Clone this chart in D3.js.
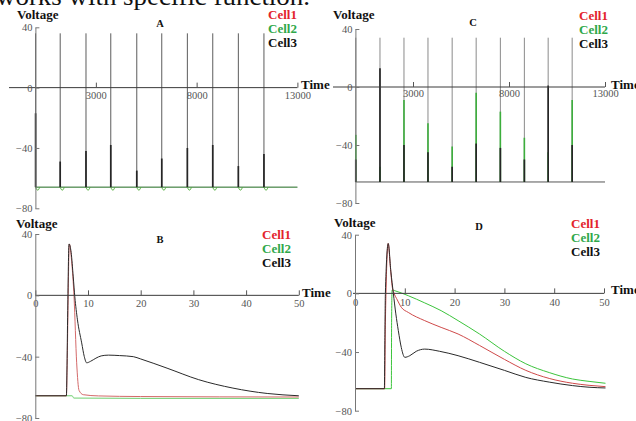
<!DOCTYPE html>
<html>
<head>
<meta charset="utf-8">
<script src="https://cdn.jsdelivr.net/npm/d3@7"></script>
<style>
  html, body { margin: 0; padding: 0; background: #fff; }
  svg { display: block; }
  svg text { font-family: "Liberation Serif", "Times New Roman", Times, serif; }
</style>
</head>
<body>
<div id="chart"></div>
<script>
// Panels A and C: spike trains over 13 s (time in ms, voltage in mV)
const spikeTimesA = [10, 1230, 2510, 3740, 5030, 6270, 7540, 8800, 10070, 11340];
const peakA = [36, 36, 36, 36, 36, 36, 36, 36, 36, 36];
const cell3A = [-17, -49, -42, -38, -55, -47, -40, -38, -52, -44];
const cell2DipA = [-68, -68, -68, -68, -68, -68, -68, -68, -68, -68];
const restA = -66;

const spikeTimesC = [20, 1280, 2530, 3780, 5040, 6290, 7550, 8800, 10040, 11290];
const peakC = [34, 34, 34, 34, 34, 34, 34, 34, 34, 34];
const cell3C = [-50, 13, -40, -45, -55, -39, -42, -50, 1, -40];
const cell2C = [-33, -55, -9, -25, -41, -4, -17, -35, -45, -9];
const restC = -65.5;

// Panels B and D: single spike over 50 ms, [time, voltage]
const cell1B = [[0, -65.5], [5.9, -65.5], [6.05, -45], [6.2, -10], [6.45, 33.5], [6.9, 22], [7.35, -1],
  [7.85, -44], [8.3, -62], [9.1, -64.8], [12, -65.6], [20, -66], [50, -66.3]];
const cell2B = [[0, -65.5], [7.0, -65.5], [7.3, -67], [20, -67.2], [50, -67.2]];
const cell3B = [[0, -65.5], [5.9, -65.5], [6.0, -50], [6.15, -10], [6.4, 33.5], [6.8, 28], [7.2, 12],
  [7.5, -1], [8.0, -16], [8.8, -31], [9.3, -40], [9.75, -44], [10.5, -43], [11.5, -41], [12.5, -39.5],
  [13.9, -39], [16, -39.3], [18.6, -40], [20, -41.5], [25, -47.5], [31, -55], [37.5, -60.5],
  [44, -64], [50, -65.5]];

const cell1D = [[0, -65], [5.95, -65], [6.1, -20], [6.67, 34], [7.1, 18], [7.5, 4], [7.8, 0.5],
  [8.5, -4.5], [9.3, -9.5], [10.7, -13], [14, -18.6], [17.3, -23.2], [20.7, -27.7], [25, -35.5],
  [30, -45], [34.3, -52.5], [39, -58], [43.7, -61.3], [47, -62.7], [50.3, -63.6]];
const cell2D = [[0, -65], [7.3, -65], [7.35, -20], [7.45, 2.3], [8, 1.8], [10.7, -1.6], [14, -6.5],
  [17.3, -11.8], [20.7, -18.6], [25, -27.7], [30, -39.5], [34.3, -48], [39, -54], [43.7, -58.4],
  [47, -60], [50.3, -61.3]];
const cell3D = [[0, -65], [5.9, -65], [6.0, -30], [6.1, 0], [6.67, 34], [7.2, 15], [7.7, 0],
  [8.2, -14], [8.7, -25.4], [9.3, -37], [10, -43.6], [11, -42.5], [12.3, -39.5], [14, -38],
  [17, -39.5], [20.7, -42.5], [25, -47], [30, -52.5], [34.3, -57.3], [39, -60.5], [43.7, -62.9],
  [47, -64], [50.3, -64.5]];

const xTicksLong = [3000, 8000, 13000];
const xTicksShort = [0, 10, 20, 30, 40, 50];
const yTicks = [40, 0, -40, -80];
const cellLabels = ["Cell1", "Cell2", "Cell3"];
const panelNames = ["A", "B", "C", "D"];

const WIDTH = 636;
const HEIGHT = 421;
const legendColors = ["#e3232c", "#2fa84a", "#111"];
const lineColors = { cell1: "#cf4a4a", cell2: "#3cc43c", cell3: "#2a2a2a" };

const panels = [
  { name: panelNames[0], xDomain: [0, 13000], xRange: [35.4, 297.4], yRange: [208.3, 27.3],
    xTicks: xTicksLong, axisStart: 9, voltage: [17, 19], title: [160, 27], legend: [268, 19],
    time: [301, 89], tickDy: 4 },
  { name: panelNames[2], xDomain: [0, 13000], xRange: [355.4, 605], yRange: [203, 29],
    xTicks: xTicksLong, axisStart: 333, voltage: [333, 19], title: [473, 26], legend: [579, 20],
    time: [611, 89], tickDy: 3 },
  { name: panelNames[1], xDomain: [0, 50], xRange: [35.3, 298.8], yRange: [418, 234],
    xTicks: xTicksShort, axisStart: 35.3, voltage: [16, 228], title: [160, 243], legend: [262, 239],
    time: [302, 297], tickDy: 4 },
  { name: panelNames[3], xDomain: [0, 50], xRange: [355, 604], yRange: [410.7, 234.7],
    xTicks: xTicksShort, axisStart: 353, voltage: [334, 227], title: [479, 230], legend: [571, 228],
    time: [611, 294], tickDy: 5 },
];

const svg = d3.select("#chart")
  .append("svg")
  .attr("width", WIDTH)
  .attr("height", HEIGHT)
  .attr("viewBox", [0, 0, WIDTH, HEIGHT]);

svg.append("rect").attr("width", WIDTH).attr("height", HEIGHT).attr("fill", "#fff");

// caption fragment cut off at the top of the figure
svg.append("text")
  .attr("x", -4)
  .attr("y", 5)
  .attr("font-size", 25)
  .attr("textLength", 314)
  .attr("lengthAdjust", "spacingAndGlyphs")
  .attr("fill", "#111")
  .text("works with specific function.");

function _scales(p) {
  const x = d3.scaleLinear().domain(p.xDomain).range(p.xRange);
  const y = d3.scaleLinear().domain([-80, 40]).range(p.yRange);
  return { x, y };
}

function _drawAxes(g, p, x, y) {
  // horizontal zero line
  g.append("line")
    .attr("x1", p.axisStart)
    .attr("x2", x(p.xDomain[1]))
    .attr("y1", y(0))
    .attr("y2", y(0))
    .attr("stroke", "#3a3a3a")
    .attr("stroke-width", 1);

  const xAxis = g.append("g")
    .attr("transform", `translate(0,${y(0)})`)
    .call(d3.axisBottom(x).tickValues(p.xTicks).tickSize(-5).tickPadding(p.tickDy).tickFormat(d3.format("d")));
  xAxis.select(".domain").remove();
  xAxis.attr("font-family", null);
  xAxis.selectAll(".tick line").attr("stroke", "#555");
  xAxis.selectAll(".tick text")
    .attr("font-size", 10.5)
    .attr("fill", "#555");

  const yAxis = g.append("g")
    .attr("transform", `translate(${x(0)},0)`)
    .call(d3.axisLeft(y).tickValues(yTicks).tickSize(-4).tickSizeOuter(0).tickPadding(3));
  yAxis.attr("font-family", null);
  yAxis.select(".domain").attr("stroke", "#777");
  yAxis.selectAll(".tick line").attr("stroke", "#777");
  yAxis.selectAll(".tick text")
    .attr("font-size", 10.5)
    .attr("fill", "#555");
}

function _drawLabels(g, p) {
  const bold = (sel) => sel.attr("font-weight", "bold");

  g.append("text").call(bold)
    .attr("x", p.voltage[0]).attr("y", p.voltage[1])
    .attr("font-size", 13).attr("fill", "#111").text("Voltage");

  g.append("text").call(bold)
    .attr("x", p.title[0]).attr("y", p.title[1])
    .attr("text-anchor", "middle")
    .attr("font-size", 10.5).attr("fill", "#111").text(p.name);

  g.append("text").call(bold)
    .attr("x", p.time[0]).attr("y", p.time[1])
    .attr("font-size", 13).attr("fill", "#111").text("Time");

  g.selectAll(".legend")
    .data(cellLabels)
    .join("text")
    .attr("class", "legend")
    .call(bold)
    .attr("x", p.legend[0])
    .attr("y", (d, i) => p.legend[1] + i * 14)
    .attr("font-size", 13)
    .attr("fill", (d, i) => legendColors[i])
    .text((d) => d);
}

function _vline(g, x, y, t, from, to, color, width) {
  g.append("path")
    .datum([[t, from], [t, to]])
    .attr("d", d3.line().x((d) => x(d[0])).y((d) => y(d[1])))
    .attr("stroke", color)
    .attr("stroke-width", width)
    .attr("fill", "none");
}

function _drawTrain(g, x, y, data) {
  const line = d3.line().x((d) => x(d[0])).y((d) => y(d[1]));
  const hook = d3.line().x((d) => x(d[0])).y((d) => y(d[1])).curve(d3.curveBasis);

  g.append("path")
    .datum([[0, data.rest], [13000, data.rest]])
    .attr("d", line)
    .attr("stroke", "#555")
    .attr("fill", "none");

  if (data.greenRest) {
    g.append("path")
      .datum([[0, data.rest], [13000, data.rest]])
      .attr("d", line)
      .attr("stroke", lineColors.cell2)
      .attr("stroke-opacity", 0.55)
      .attr("fill", "none");
  }

  data.times.forEach((t, i) => {
    _vline(g, x, y, t, data.rest, data.peak[i], data.thin, 1);
    if (data.cell2) _vline(g, x, y, t, data.rest, data.cell2[i], "#3cae3c", 1.6);
    _vline(g, x, y, t, data.rest, data.cell3[i], "#262626", 1.7);
    if (data.dip) {
      g.append("path")
        .datum([[t, data.rest], [t + 60, data.dip[i]], [t + 150, data.dip[i]], [t + 200, data.rest]])
        .attr("d", hook)
        .attr("stroke", "#4fae3a")
        .attr("stroke-width", 1)
        .attr("fill", "none");
    }
  });
}

function _drawTraces(g, x, y, traces) {
  const line = d3.line()
    .x((d) => x(d[0]))
    .y((d) => y(d[1]))
    .curve(d3.curveMonotoneX);

  traces.forEach(({ data, color }) => {
    g.append("path")
      .datum(data)
      .attr("d", line)
      .attr("stroke", color)
      .attr("stroke-width", 1)
      .attr("stroke-linejoin", "round")
      .attr("fill", "none");
  });
}

panels.forEach((p) => {
  const g = svg.append("g");
  const { x, y } = _scales(p);

  if (p.name === "A") {
    _drawTrain(g, x, y, { times: spikeTimesA, peak: peakA, cell3: cell3A, dip: cell2DipA,
      rest: restA, thin: "#5c5c5c", greenRest: true });
  } else if (p.name === "C") {
    _drawTrain(g, x, y, { times: spikeTimesC, peak: peakC, cell3: cell3C, cell2: cell2C,
      rest: restC, thin: "#8a8a8a" });
  } else if (p.name === "B") {
    _drawTraces(g, x, y, [
      { data: cell2B, color: "#6fcf6f" },
      { data: cell1B, color: "#d46a6a" },
      { data: cell3B, color: lineColors.cell3 },
    ]);
  } else {
    _drawTraces(g, x, y, [
      { data: cell2D, color: lineColors.cell2 },
      { data: cell1D, color: lineColors.cell1 },
      { data: cell3D, color: lineColors.cell3 },
    ]);
  }

  _drawAxes(g, p, x, y);
  _drawLabels(g, p);
});
</script>
</body>
</html>
